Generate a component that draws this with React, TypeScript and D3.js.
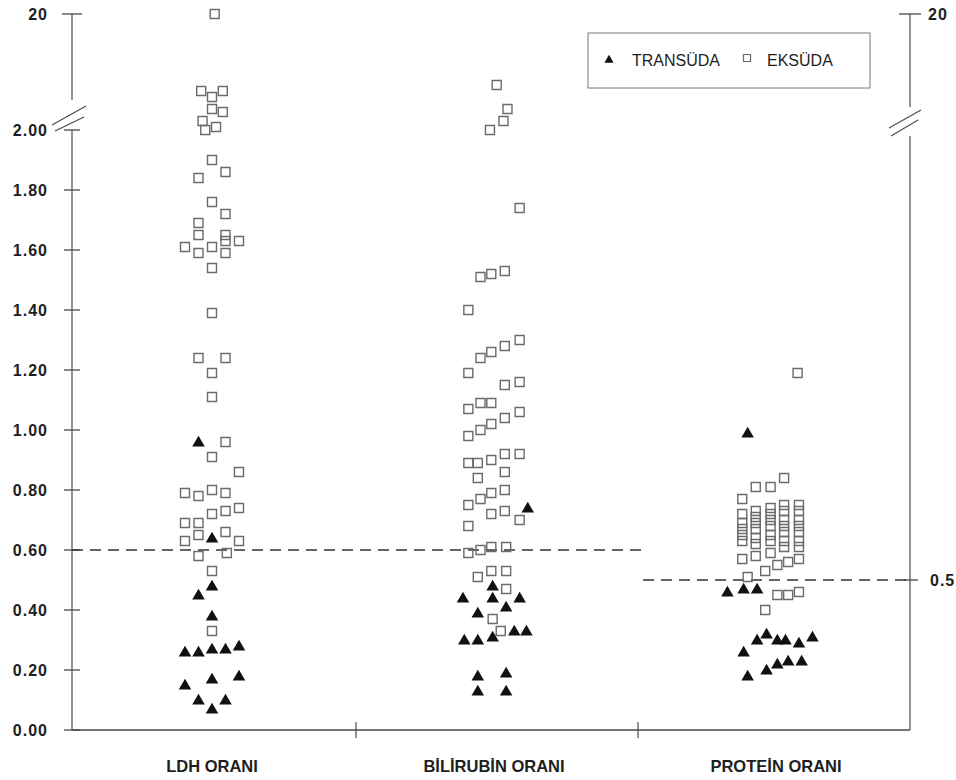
import React from "react";
import * as d3 from "d3";

// ratio categories shown on the x axis
const categories = ["LDH ORANI", "BİLİRUBİN ORANI", "PROTEİN ORANI"];

// each point: [ratio value, column offset inside the cluster]
const ldhTransudate: [number, number][] = [
  [0.96, -1], [0.64, 0], [0.48, 0], [0.45, -1], [0.38, 0],
  [0.26, -2], [0.26, -1], [0.27, 0], [0.27, 1], [0.28, 2],
  [0.15, -2], [0.17, 0], [0.18, 2],
  [0.1, -1], [0.1, 1], [0.07, 0],
];
const ldhExudate: [number, number][] = [
  [20, 0.2],
  [2.13, -0.8], [2.11, 0], [2.13, 0.8], [2.07, 0], [2.06, 0.8],
  [2.03, -0.7], [2.0, -0.5], [2.01, 0.3],
  [1.9, 0], [1.84, -1], [1.86, 1],
  [1.76, 0], [1.72, 1], [1.69, -1], [1.65, -1], [1.65, 1], [1.63, 1], [1.63, 2],
  [1.61, -2], [1.59, -1], [1.61, 0], [1.59, 1],
  [1.54, 0], [1.39, 0], [1.24, -1], [1.24, 1], [1.19, 0], [1.11, 0],
  [0.96, 1], [0.91, 0], [0.86, 2],
  [0.79, -2], [0.78, -1], [0.8, 0], [0.79, 1],
  [0.72, 0], [0.73, 1], [0.74, 2],
  [0.69, -2], [0.69, -1],
  [0.63, -2], [0.65, -1], [0.66, 1], [0.63, 2],
  [0.58, -1], [0.59, 1.1],
  [0.53, 0], [0.33, 0],
];
const bilirubinTransudate: [number, number][] = [
  [0.74, 2.5], [0.48, -0.1], [0.44, -2.3], [0.44, -0.1], [0.44, 1.9],
  [0.41, 0.9], [0.39, -1.2],
  [0.33, 1.5], [0.33, 2.4],
  [0.3, -2.2], [0.3, -1.2], [0.31, -0.1],
  [0.18, -1.2], [0.19, 0.9],
  [0.13, -1.2], [0.13, 0.9],
];
const bilirubinExudate: [number, number][] = [
  [2.16, 0.2], [2.07, 1.0], [2.03, 0.7], [2.0, -0.3],
  [1.74, 1.9],
  [1.51, -1.0], [1.52, -0.2], [1.53, 0.8],
  [1.4, -1.9],
  [1.24, -1.0], [1.26, -0.2], [1.28, 0.8], [1.3, 1.9],
  [1.19, -1.9],
  [1.15, 0.8], [1.16, 1.9],
  [1.07, -1.9], [1.09, -1.0], [1.09, -0.2], [1.04, 0.8], [1.06, 1.9],
  [0.98, -1.9], [1.0, -1.0], [1.02, -0.2],
  [0.92, 0.8], [0.92, 1.9],
  [0.89, -1.9], [0.89, -1.2], [0.9, -0.2],
  [0.84, -1.2], [0.86, 0.8],
  [0.75, -1.9], [0.77, -1.0], [0.79, -0.2], [0.8, 0.8],
  [0.72, -0.2], [0.73, 0.8], [0.7, 1.9],
  [0.68, -1.9],
  [0.59, -1.9], [0.6, -1.0], [0.61, -0.2], [0.61, 0.9],
  [0.51, -1.2], [0.53, -0.2], [0.53, 0.9],
  [0.47, 0.9], [0.37, -0.1], [0.33, 0.5],
];
const proteinTransudate: [number, number][] = [
  [0.99, -2.1],
  [0.46, -3.6], [0.47, -2.4], [0.47, -1.4],
  [0.32, -0.7], [0.3, -1.4], [0.3, 0.1], [0.3, 0.7], [0.29, 1.7], [0.31, 2.7],
  [0.26, -2.4],
  [0.2, -0.7], [0.22, 0.1], [0.23, 0.9], [0.23, 1.9],
  [0.18, -2.1],
];
const proteinExudate: [number, number][] = [
  [1.19, 1.6],
  [0.84, 0.6], [0.81, -0.4], [0.81, -1.5], [0.77, -2.5],
  [0.72, -2.5], [0.69, -2.5], [0.67, -2.5], [0.65, -2.5], [0.63, -2.5],
  [0.73, -1.5], [0.71, -1.5], [0.69, -1.5], [0.67, -1.5], [0.64, -1.5], [0.62, -1.5],
  [0.74, -0.4], [0.72, -0.4], [0.7, -0.4], [0.68, -0.4], [0.65, -0.4], [0.63, -0.4],
  [0.75, 0.6], [0.73, 0.6], [0.7, 0.6], [0.68, 0.6], [0.66, 0.6], [0.63, 0.6],
  [0.75, 1.7], [0.73, 1.7], [0.7, 1.7], [0.68, 1.7], [0.66, 1.7], [0.63, 1.7],
  [0.57, -2.5], [0.58, -1.5], [0.59, -0.4], [0.61, 0.6], [0.61, 1.7],
  [0.53, -0.8], [0.55, 0.1], [0.56, 0.9], [0.57, 1.7],
  [0.51, -2.1],
  [0.45, 0.1], [0.45, 0.9], [0.46, 1.7],
  [0.4, -0.8],
];

const transudate = [ldhTransudate, bilirubinTransudate, proteinTransudate];
const exudate = [ldhExudate, bilirubinExudate, proteinExudate];

const yTicks = [0, 0.2, 0.4, 0.6, 0.8, 1.0, 1.2, 1.4, 1.6, 1.8, 2.0];
const yTop = 20;
const cutoffLdhBili = 0.6;
const cutoffProtein = 0.5;
const legendLabels = ["TRANSÜDA", "EKSÜDA"];

const W = 956;
const H = 780;
const left = 72;
const right = 910;
const bottom = 730;

const font = "'Liberation Sans', Arial, sans-serif";
const ink = "#1e1e1e";
const axisCol = "#4a4a4a";

export default function App() {
  // axis breaks after 2.00, top value 20
  const y = d3.scaleLinear().domain([0, 2.15, yTop]).range([bottom, 85, 14]);
  const x = d3.scaleBand().domain(categories).range([71, 917]);
  const jitter = d3.scaleLinear().domain([-1, 1]).range([-13.5, 13.5]);

  const tri = d3.symbol(d3.symbolTriangle, 68)()!;
  const sq = d3.symbol(d3.symbolSquare, 81)()!;
  const triSmall = d3.symbol(d3.symbolTriangle, 36)()!;
  const sqSmall = d3.symbol(d3.symbolSquare, 49)()!;

  const cx = (c: string, off: number) => x(c)! + x.bandwidth() / 2 + jitter(off);
  const bandEdges = [x(categories[1])!, x(categories[2])!];
  const protStart = 643;

  return (
    <svg
      width={W}
      height={H}
      style={{ position: "absolute", left: 0, top: 0, background: "#fff" }}
      fontFamily={font}
    >
      {/* left axis */}
      <line x1={left} x2={left} y1={y(yTop)} y2={100} stroke={axisCol} strokeWidth={1.2} />
      <line x1={left} x2={left} y1={y(2.0)} y2={bottom} stroke={axisCol} strokeWidth={1.2} />
      <line x1={52} y1={125} x2={86} y2={106} stroke={axisCol} strokeWidth={1.2} />
      <line x1={55} y1={131} x2={84} y2={117} stroke={axisCol} strokeWidth={1.2} />
      {yTicks.map((t) => (
        <g key={t}>
          <line x1={left - 8} x2={left + 8} y1={y(t)} y2={y(t)} stroke={axisCol} strokeWidth={1.3} />
          <text
            x={48}
            y={y(t)}
            dy="0.36em"
            textAnchor="end"
            fontSize={16}
            fontWeight="bold"
            letterSpacing={1}
            fill={ink}
          >
            {t.toFixed(2)}
          </text>
        </g>
      ))}
      <line x1={left - 10} x2={left + 10} y1={y(yTop)} y2={y(yTop)} stroke={axisCol} strokeWidth={1.3} />
      <text x={48} y={y(yTop)} dy="0.36em" textAnchor="end" fontSize={16} fontWeight="bold" letterSpacing={1} fill={ink}>
        {yTop}
      </text>

      {/* right axis */}
      <line x1={right} x2={right} y1={y(yTop)} y2={107} stroke={axisCol} strokeWidth={1.2} />
      <line x1={right} x2={right} y1={136} y2={bottom} stroke={axisCol} strokeWidth={1.2} />
      <line x1={889} y1={128} x2={921} y2={110} stroke={axisCol} strokeWidth={1.2} />
      <line x1={891} y1={136} x2={918} y2={120} stroke={axisCol} strokeWidth={1.2} />
      <line x1={right - 11} x2={right + 11} y1={y(yTop)} y2={y(yTop)} stroke={axisCol} strokeWidth={1.3} />
      <text x={928} y={y(yTop)} dy="0.36em" fontSize={16} fontWeight="bold" letterSpacing={1} fill={ink}>
        {yTop}
      </text>
      <line x1={right - 6} x2={right + 8} y1={y(cutoffProtein)} y2={y(cutoffProtein)} stroke={axisCol} strokeWidth={1.3} />
      <text x={930} y={y(cutoffProtein)} dy="0.36em" fontSize={16} fontWeight="bold" letterSpacing={1} fill={ink}>
        {cutoffProtein}
      </text>

      {/* x axis */}
      <line x1={left} x2={right} y1={bottom} y2={bottom} stroke={axisCol} strokeWidth={1.3} />
      {bandEdges.map((e, i) => (
        <line key={i} x1={e + 3} x2={e + 3} y1={bottom - 8} y2={bottom + 8} stroke={axisCol} strokeWidth={1.2} />
      ))}
      {categories.map((c) => (
        <text
          key={c}
          x={x(c)! + x.bandwidth() / 2}
          y={772}
          textAnchor="middle"
          fontSize={16.5}
          fontWeight="bold"
          fill={ink}
        >
          {c}
        </text>
      ))}

      {/* cutoff lines */}
      <line
        x1={left}
        x2={protStart}
        y1={y(cutoffLdhBili)}
        y2={y(cutoffLdhBili)}
        stroke="#333"
        strokeWidth={1.5}
        strokeDasharray="11 7"
      />
      <line
        x1={protStart}
        x2={right}
        y1={y(cutoffProtein)}
        y2={y(cutoffProtein)}
        stroke="#333"
        strokeWidth={1.5}
        strokeDasharray="11 7"
      />

      {/* exudate squares */}
      {exudate.map((pts, i) =>
        pts.map(([v, off], j) => (
          <path
            key={`e${i}-${j}`}
            d={sq}
            transform={`translate(${cx(categories[i], off)},${y(v)})`}
            fill="none"
            stroke="#6b6b6b"
            strokeWidth={1.4}
          />
        ))
      )}
      {/* transudate triangles */}
      {transudate.map((pts, i) =>
        pts.map(([v, off], j) => (
          <path
            key={`t${i}-${j}`}
            d={tri}
            transform={`translate(${cx(categories[i], off)},${y(v) + 1})`}
            fill="#111"
          />
        ))
      )}

      {/* legend */}
      <rect x={588} y={33} width={282} height={55} fill="none" stroke="#777" strokeWidth={1} />
      <path d={triSmall} transform="translate(609,60)" fill="#111" />
      <text x={632} y={66} fontSize={16} fill={ink}>
        {legendLabels[0]}
      </text>
      <path d={sqSmall} transform="translate(747,58)" fill="none" stroke="#6b6b6b" strokeWidth={1.2} />
      <text x={767} y={66} fontSize={16} fill={ink}>
        {legendLabels[1]}
      </text>
    </svg>
  );
}
